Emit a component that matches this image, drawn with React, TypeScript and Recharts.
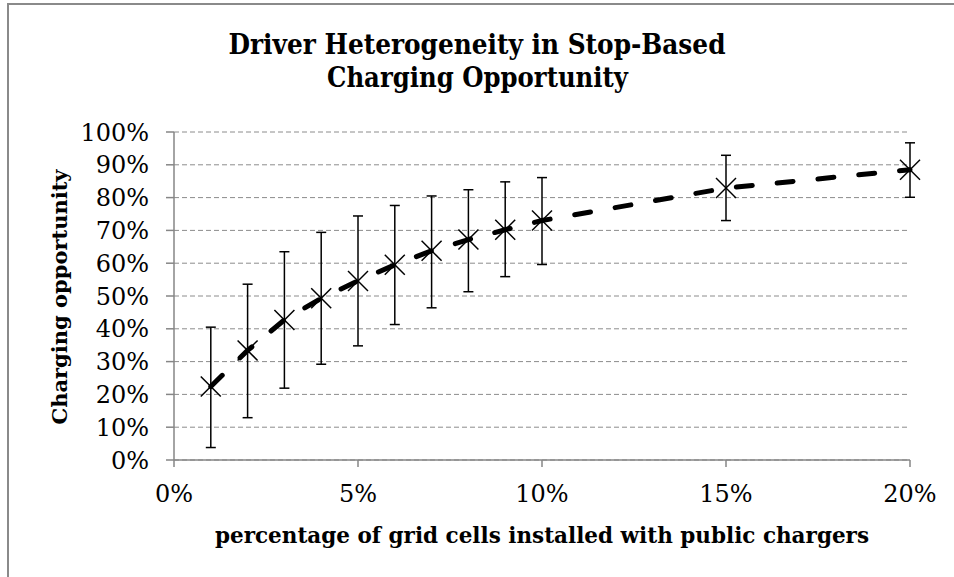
import React from "react";
import {
  ComposedChart,
  Line,
  XAxis,
  YAxis,
  CartesianGrid,
  ErrorBar,
  Label,
} from "recharts";

// share of grid cells with public chargers (%)
const coverage = [1, 2, 3, 4, 5, 6, 7, 8, 9, 10, 15, 20];
// mean charging opportunity (%)
const meanOpportunity = [22.4, 33.4, 42.7, 49.3, 54.6, 59.5, 63.8, 67.2, 70.2, 73.0, 82.9, 88.5];
// error bar bounds (%)
const lowBound = [3.8, 12.9, 21.9, 29.2, 34.8, 41.3, 46.4, 51.3, 55.9, 59.6, 73.0, 80.1];
const highBound = [40.5, 53.6, 63.5, 69.4, 74.4, 77.6, 80.5, 82.4, 84.8, 86.1, 92.9, 96.7];

const xTicks = [0, 5, 10, 15, 20];
const yTicks = [0, 10, 20, 30, 40, 50, 60, 70, 80, 90, 100];

const titleLines = ["Driver Heterogeneity in Stop-Based", "Charging Opportunity"];
const xTitle = "percentage of grid cells installed with public chargers";
const yTitle = "Charging opportunity";

const FONT = "'DejaVu Serif', serif";
const AXIS_GRAY = "#868686";

const data = coverage.map((x, i) => ({
  x,
  y: meanOpportunity[i],
  err: [meanOpportunity[i] - lowBound[i], highBound[i] - meanOpportunity[i]],
}));

function CrossMark(props: any) {
  const { cx, cy, index } = props;
  if (cx == null || cy == null) return <g key={index} />;
  const s = 10;
  return (
    <g key={`m-${index}`}>
      <line x1={cx - s} y1={cy - s} x2={cx + s} y2={cy + s} stroke="#000" strokeWidth={1.5} />
      <line x1={cx - s} y1={cy + s} x2={cx + s} y2={cy - s} stroke="#000" strokeWidth={1.5} />
    </g>
  );
}

export default function App() {
  return (
    <div
      style={{
        position: "absolute",
        left: 0,
        top: 0,
        width: 954,
        height: 577,
        overflow: "hidden",
        background: "#fff",
      }}
    >
      {/* chart frame, cut off at right and bottom like the original */}
      <div
        style={{
          position: "absolute",
          left: 7,
          top: 3,
          width: 1000,
          height: 700,
          border: "2px solid #8a8a8a",
        }}
      />
      <div style={{ position: "absolute", left: 0, top: 0 }}>
        <ComposedChart
          width={954}
          height={577}
          data={data}
          margin={{ top: 132, right: 44, bottom: 0, left: 0 }}
        >
          <CartesianGrid
            horizontal={true}
            vertical={false}
            stroke="#8c8c8c"
            strokeDasharray="5 3"
            strokeWidth={1}
          />
          <XAxis
            dataKey="x"
            type="number"
            domain={[0, 20]}
            ticks={xTicks}
            tickFormatter={(v) => `${v}%`}
            height={117}
            stroke={AXIS_GRAY}
            strokeWidth={1.5}
            tickSize={7}
            tickMargin={18}
            tick={{ fill: "#000", fontSize: 24, fontFamily: FONT }}
          >
            <Label
              content={({ viewBox }: any) => (
                <text
                  x={viewBox.x + viewBox.width / 2}
                  y={535}
                  textAnchor="middle"
                  dominantBaseline="central"
                  fontFamily={FONT}
                  fontWeight="bold"
                  fontSize={21.5}
                  fill="#000"
                >
                  {xTitle}
                </text>
              )}
            />
          </XAxis>
          <YAxis
            type="number"
            domain={[0, 100]}
            ticks={yTicks}
            tickFormatter={(v) => `${v}%`}
            width={174}
            stroke={AXIS_GRAY}
            strokeWidth={1.5}
            tickSize={8}
            tickMargin={17}
            interval={0}
            tick={{ fill: "#000", fontSize: 24, fontFamily: FONT }}
          >
            <Label
              content={({ viewBox }: any) => {
                const cy = viewBox.y + viewBox.height / 2 + 1;
                return (
                  <text
                    x={59}
                    y={cy}
                    transform={`rotate(-90, 59, ${cy})`}
                    textAnchor="middle"
                    dominantBaseline="central"
                    fontFamily={FONT}
                    fontWeight="bold"
                    fontSize={21}
                    fill="#000"
                  >
                    {yTitle}
                  </text>
                );
              }}
            />
          </YAxis>
          <Line
            type="linear"
            dataKey="y"
            stroke="#000"
            strokeWidth={5}
            strokeDasharray="16 25"
            strokeLinecap="round"
            dot={CrossMark}
            activeDot={false}
            isAnimationActive={false}
          >
            <ErrorBar dataKey="err" direction="y" width={5} stroke="#000" strokeWidth={1.5} />
          </Line>
        </ComposedChart>
      </div>
      <svg
        width={954}
        height={577}
        style={{ position: "absolute", left: 0, top: 0, pointerEvents: "none" }}
      >
        <text
          x={477}
          y={54}
          textAnchor="middle"
          fontFamily={FONT}
          fontWeight="bold"
          fontSize={28.5}
          textLength={497}
          lengthAdjust="spacingAndGlyphs"
          fill="#000"
        >
          {titleLines[0]}
        </text>
        <text
          x={477.5}
          y={87}
          textAnchor="middle"
          fontFamily={FONT}
          fontWeight="bold"
          fontSize={28.5}
          textLength={301}
          lengthAdjust="spacingAndGlyphs"
          fill="#000"
        >
          {titleLines[1]}
        </text>
      </svg>
    </div>
  );
}
